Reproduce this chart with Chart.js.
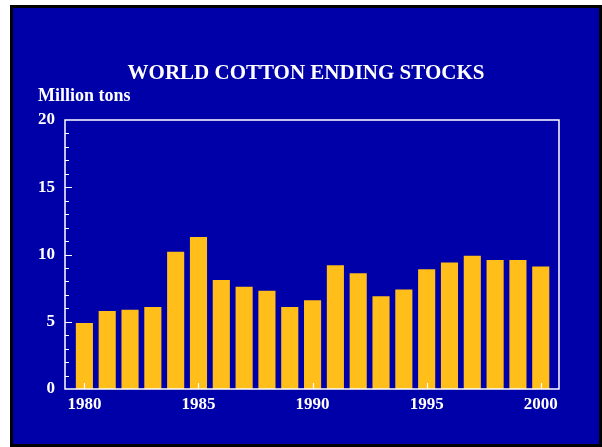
<!DOCTYPE html>
<html>
<head>
<meta charset="utf-8">
<title>World cotton ending stocks</title>
<script src="https://cdn.jsdelivr.net/npm/chart.js@4.4.1/dist/chart.umd.min.js"></script>
<style>
  html, body { margin: 0; padding: 0; background: #ffffff; }
  body { width: 602px; height: 447px; position: relative; overflow: hidden; }
  #panel {
    position: absolute; left: 10px; top: 5px; width: 592px; height: 442px;
    box-sizing: border-box; border: 3px solid #000000; background: #0000a8;
  }
  #chart { position: absolute; left: 0; top: 0; }
</style>
</head>
<body>
<div id="panel"></div>
<canvas id="chart" width="602" height="447"></canvas>
<script>
  "use strict";

  // Ending stocks by year, million tons
  const years = [1980, 1981, 1982, 1983, 1984, 1985, 1986, 1987, 1988, 1989, 1990,
                 1991, 1992, 1993, 1994, 1995, 1996, 1997, 1998, 1999, 2000];
  const stocks = [4.9, 5.8, 5.9, 6.1, 10.2, 11.3, 8.1, 7.6, 7.3, 6.1, 6.6,
                  9.2, 8.6, 6.9, 7.4, 8.9, 9.4, 9.9, 9.6, 9.6, 9.1];
  const xTickYears = [1980, 1985, 1990, 1995, 2000];
  const yTickValues = [0, 5, 10, 15, 20];

  const chartTitle = "WORLD COTTON ENDING STOCKS";
  const unitLabel = "Million tons";

  const WHITE = "#ffffff";
  const BAR = "rgb(255, 190, 26)";
  const SERIF = "'Liberation Serif', 'Times New Roman', serif";

  // Plot frame plus inward tick marks (major every 5, minor every 1 on y)
  const frameAndTicks = {
    id: "frameAndTicks",
    afterDatasetsDraw(chart) {
      const { ctx, chartArea: a, scales } = chart;
      const x = scales.x;
      const y = scales.y;
      ctx.save();
      ctx.strokeStyle = WHITE;
      ctx.lineWidth = 1.5;
      ctx.strokeRect(a.left, a.top, a.right - a.left, a.bottom - a.top);

      ctx.lineWidth = 1.2;
      ctx.beginPath();
      for (let v = 1; v < 20; v++) {
        const py = Math.round(y.getPixelForValue(v)) + 0.5;
        const len = v % 5 === 0 ? 7 : 4;
        ctx.moveTo(a.left, py);
        ctx.lineTo(a.left + len, py);
      }
      xTickYears.forEach((yr) => {
        const px = Math.round(x.getPixelForValue(yr)) + 0.5;
        ctx.moveTo(px, a.bottom);
        ctx.lineTo(px, a.bottom - 6);
      });
      ctx.stroke();
      ctx.restore();
    },
  };

  // Heading and unit caption
  const headings = {
    id: "headings",
    afterDraw(chart) {
      const { ctx } = chart;
      ctx.save();
      ctx.fillStyle = WHITE;
      ctx.textBaseline = "alphabetic";
      ctx.font = `bold 21px ${SERIF}`;
      ctx.textAlign = "center";
      ctx.fillText(chartTitle, 306, 79);
      ctx.font = `bold 18px ${SERIF}`;
      ctx.textAlign = "left";
      ctx.fillText(unitLabel, 38, 101);
      ctx.restore();
    },
  };

  const canvas = document.getElementById("chart");

  canvas.chart = new Chart(canvas, {
    type: "bar",
    data: {
      datasets: [
        {
          label: unitLabel,
          data: years.map((yr, i) => ({ x: yr, y: stocks[i] })),
          backgroundColor: BAR,
          borderWidth: 0,
          barPercentage: 0.75,
          categoryPercentage: 1,
        },
      ],
    },
    options: {
      responsive: false,
      devicePixelRatio: 1,
      animation: false,
      layout: { padding: { top: 120, right: 43, bottom: 0, left: 0 } },
      plugins: {
        legend: { display: false },
        tooltip: { enabled: false },
        title: { display: false },
      },
      scales: {
        x: {
          type: "linear",
          offset: false,
          min: 1979.15,
          max: 2000.8,
          grid: { display: false, drawTicks: false },
          border: { display: false },
          afterBuildTicks: (scale) => {
            scale.ticks = xTickYears.map((v) => ({ value: v }));
          },
          afterFit: (scale) => {
            scale.height = 58;
          },
          ticks: {
            color: WHITE,
            padding: 5,
            maxRotation: 0,
            autoSkip: false,
            font: { family: SERIF, size: 17, weight: "bold" },
            callback: (v) => String(v),
          },
        },
        y: {
          min: 0,
          max: 20,
          grid: { display: false, drawTicks: false },
          border: { display: false },
          afterBuildTicks: (scale) => {
            scale.ticks = yTickValues.map((v) => ({ value: v }));
          },
          afterFit: (scale) => {
            scale.width = 65;
          },
          ticks: {
            color: WHITE,
            padding: 10,
            font: { family: SERIF, size: 17, weight: "bold" },
            callback: (v) => String(v),
          },
        },
      },
    },
    plugins: [frameAndTicks, headings],
  });
</script>
</body>
</html>
